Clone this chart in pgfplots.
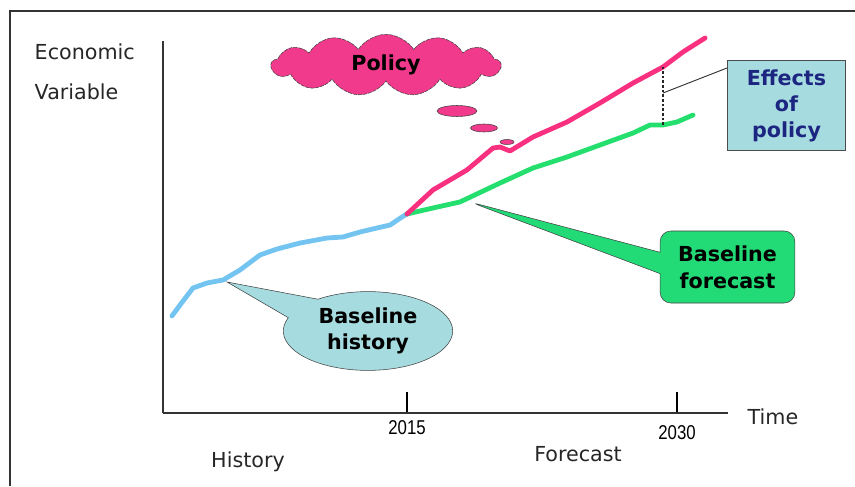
\documentclass[border=0pt]{standalone}
\usepackage{pgfplots}
\pgfplotsset{compat=1.18}
\usepackage{fontspec}
\setmainfont{DejaVu Sans}
\newfontfamily\tickfont[FakeStretch=0.84]{Liberation Sans}
\usetikzlibrary{shapes.symbols,shapes.callouts,shapes.geometric}

\definecolor{histblue}{HTML}{74C4F2}
\definecolor{polpink}{HTML}{F8307F}
\definecolor{basegreen}{HTML}{24DE6E}
\definecolor{cloudpink}{HTML}{F23A8C}
\definecolor{calloutgreen}{HTML}{22DB77}
\definecolor{teal}{HTML}{A6DBE0}
\definecolor{navy}{HTML}{1C2580}
\definecolor{axisgray}{HTML}{333333}

\begin{document}
\begin{tikzpicture}
\useasboundingbox (0,0) rectangle (641.25pt,364.5pt);

\begin{axis}[
    at={(122.25pt,54.75pt)}, anchor=south west,
    width=423.75pt, height=279pt, scale only axis,
    xmin=2001.444, xmax=2032.833,
    ymin=0, ymax=372,
    axis x line=bottom, axis y line=left,
    axis line style={-, line width=1.3pt, draw=axisgray},
    ytick=\empty,
    xtick={2015,2030},
    xticklabels={},
    tick align=inside,
    major tick length=16pt,
    tick style={line width=1pt, black},
    clip=false,
]
% baseline history
\addplot[histblue, line width=3.6pt, line join=round, line cap=round] coordinates {
    (2001.94,97)(2002.39,108)(2003.11,125)(2003.89,130)(2004.78,133)
    (2005.72,143)(2006.83,158)(2007.78,164)(2009.06,170)(2010.56,175)
    (2011.44,176)(2012.39,181)(2013.33,185)(2014.06,188)(2014.72,196)(2015,199)
};
% baseline forecast
\addplot[basegreen, line width=3.6pt, line join=round, line cap=round] coordinates {
    (2015,199)(2016.44,205)(2017.94,211)(2020.17,230)(2022.0,245)
    (2023.89,256)(2025.72,268)(2027.56,280)(2028.5,288)(2029.22,288)
    (2030.0,291)(2030.89,298)
};
% policy scenario
\addplot[polpink, line width=3.6pt, line join=round, line cap=round] coordinates {
    (2015,199)(2016.44,223)(2018.33,243)(2019.78,265)(2020.17,266)
    (2020.72,262)(2022.0,276)(2023.89,291)(2025.72,310)(2027.56,330)
    (2029.22,346)(2030.33,361)(2031.56,375)
};
\draw[black!85, line width=0.8pt, dash pattern=on 2pt off 1.5pt]
    (axis cs:2029.22,288) -- (axis cs:2029.22,346);
\end{axis}

\begin{scope}[x=0.75pt,y=0.75pt]
\draw[line width=1pt,black!80] (10,0) -- (10,475) -- (855,475);

% year labels
\node[text=black, font=\tickfont\fontsize{15}{17}\selectfont] at (407,58) {2015};
\node[text=black, font=\tickfont\fontsize{15}{17}\selectfont] at (677,53) {2030};

% axis texts
\node[anchor=west, text=black!85, font=\fontsize{15.5}{18}\selectfont] at (30,434) {Economic};
\node[anchor=west, text=black!85, font=\fontsize{15.5}{18}\selectfont] at (30,394) {Variable};
\node[anchor=west, text=black!85, font=\fontsize{15.5}{18}\selectfont] at (743,69) {Time};
\node[text=black!85, font=\fontsize{15.5}{18}\selectfont] at (248,24) {History};
\node[text=black!85, font=\fontsize{15.5}{18}\selectfont] at (578,32) {Forecast};

% policy thought cloud
\node[cloud, cloud puffs=13, cloud puff arc=115, cloud ignores aspect, fill=cloudpink, draw=black!75, thin,
      dash pattern=on 3pt off 0.8pt,
      minimum width=172pt, minimum height=46pt, inner sep=0pt,
      font=\bfseries\fontsize{15.5}{18}\selectfont] at (386,421) {Policy};
\filldraw[fill=cloudpink, draw=black!75, thin] (457,375) ellipse (20 and 5.5);
\filldraw[fill=cloudpink, draw=black!75, thin] (484,358) ellipse (13.5 and 4);
\filldraw[fill=cloudpink, draw=black!75, thin] (507,344) ellipse (7 and 2.5);

% effects of policy
\draw[black!80, line width=0.7pt] (663,393) -- (727,418);
\node[draw=black!70, line width=0.8pt, fill=teal, minimum width=89pt, minimum height=68pt,
      align=center, text=navy, font=\bfseries\fontsize{15.5}{19.5}\selectfont]
      at (786.5,380.5) {Effects\\of\\policy};

% baseline history callout
\node[ellipse callout, draw=black!75, thin, fill=teal, minimum width=127pt, minimum height=57pt,
      callout absolute pointer={(227,204)}, callout pointer arc=34,
      align=center, font=\bfseries\fontsize{15.5}{20}\selectfont]
      at (368,155) {Baseline\\history};

% baseline forecast callout
\node[rectangle callout, draw=black!75, thin, fill=calloutgreen, rounded corners=8pt,
      minimum width=101pt, minimum height=54pt,
      callout absolute pointer={(470,284)}, callout pointer width=16pt,
      align=center, font=\bfseries\fontsize{15.5}{20}\selectfont]
      at (727.5,219) {Baseline\\forecast};
\end{scope}
\end{tikzpicture}
\end{document}
